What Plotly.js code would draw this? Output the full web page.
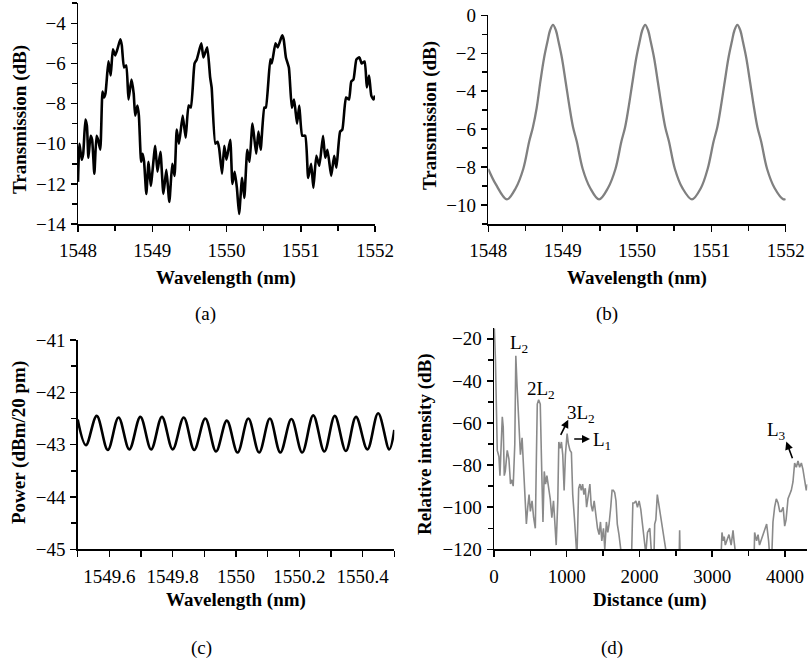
<!DOCTYPE html>
<html>
<head>
<meta charset="utf-8">
<script src="https://cdn.plot.ly/plotly-3.0.1.min.js"></script>
<style>html,body{margin:0;padding:0;background:#fff;}#plot{width:808px;height:667px;}</style>
</head>
<body>
<div id="plot"></div>
<script>
// ---------- Panel (a): measured transmission ----------
const aWavelength = [1548.00,1548.02,1548.05,1548.07,1548.10,1548.12,1548.14,1548.17,1548.19,1548.22,1548.25,1548.27,1548.30,1548.33,1548.35,1548.37,1548.41,1548.44,1548.47,1548.50,1548.53,1548.57,1548.59,1548.62,1548.65,1548.68,1548.72,1548.75,1548.77,1548.80,1548.82,1548.85,1548.87,1548.89,1548.92,1548.95,1548.98,1549.04,1549.07,1549.11,1549.15,1549.19,1549.23,1549.27,1549.30,1549.33,1549.36,1549.41,1549.45,1549.49,1549.52,1549.57,1549.60,1549.66,1549.69,1549.74,1549.78,1549.80,1549.85,1549.88,1549.90,1549.94,1549.97,1550.00,1550.05,1550.08,1550.11,1550.14,1550.17,1550.21,1550.24,1550.28,1550.31,1550.35,1550.40,1550.43,1550.46,1550.51,1550.53,1550.59,1550.61,1550.66,1550.69,1550.75,1550.77,1550.80,1550.84,1550.88,1550.91,1550.95,1550.98,1551.02,1551.06,1551.10,1551.14,1551.17,1551.21,1551.25,1551.30,1551.33,1551.36,1551.41,1551.45,1551.48,1551.53,1551.56,1551.61,1551.65,1551.68,1551.71,1551.75,1551.79,1551.82,1551.86,1551.89,1551.92,1551.95,1551.98,1552.00];
const aTransmission = [-11.9,-10.0,-10.8,-10.5,-8.8,-9.1,-10.7,-9.6,-9.8,-11.5,-9.6,-9.8,-10.3,-7.4,-7.7,-7.5,-5.9,-6.6,-5.3,-5.6,-5.3,-4.8,-5.1,-6.2,-6.1,-7.8,-6.8,-7.5,-8.6,-8.1,-8.6,-10.9,-10.5,-10.9,-12.5,-10.9,-12.1,-10.1,-11.4,-10.4,-12.5,-11.3,-12.9,-11.0,-11.6,-9.3,-10.0,-8.6,-9.7,-8.1,-8.2,-6.0,-5.8,-5.0,-5.7,-5.2,-6.7,-7.2,-10.0,-9.9,-10.2,-11.5,-10.1,-10.8,-9.8,-12.0,-11.4,-12.2,-13.5,-11.7,-12.7,-10.3,-10.9,-9.0,-10.5,-9.4,-10.3,-8.2,-8.2,-5.8,-6.0,-5.0,-5.2,-4.6,-4.8,-5.7,-6.2,-8.2,-7.8,-9.0,-8.1,-9.6,-9.6,-11.7,-11.0,-12.2,-10.6,-11.1,-9.6,-10.7,-10.3,-11.6,-10.6,-11.2,-9.4,-9.3,-7.7,-7.8,-6.9,-6.8,-5.8,-5.7,-6.0,-5.9,-7.2,-6.6,-7.6,-7.8,-7.6];

// ---------- Panel (b): simulated transmission ----------
const bWavelength = [1548.00,1548.10,1548.25,1548.37,1548.47,1548.55,1548.60,1548.65,1548.70,1548.75,1548.795,1548.83,1548.87,1548.91,1548.945,1548.99,1549.04,1549.095,1549.14,1549.19,1549.27,1549.37,1549.49,1549.61,1549.71,1549.79,1549.84,1549.885,1549.94,1549.99,1550.035,1550.07,1550.11,1550.15,1550.185,1550.23,1550.28,1550.335,1550.38,1550.43,1550.51,1550.61,1550.74,1550.86,1550.95,1551.03,1551.08,1551.125,1551.18,1551.23,1551.275,1551.31,1551.35,1551.39,1551.425,1551.47,1551.52,1551.575,1551.62,1551.67,1551.75,1551.85,1551.97,1552.00];
const bTransmission = [-8.1,-8.9,-9.7,-9.1,-8.1,-6.65,-5.9,-4.9,-3.5,-2.25,-1.4,-0.8,-0.5,-0.8,-1.4,-2.25,-3.5,-4.9,-5.9,-6.65,-8.1,-9.1,-9.7,-9.1,-8.1,-6.65,-5.9,-4.9,-3.5,-2.25,-1.4,-0.8,-0.5,-0.8,-1.4,-2.25,-3.5,-4.9,-5.9,-6.65,-8.1,-9.1,-9.7,-9.1,-8.1,-6.65,-5.9,-4.9,-3.5,-2.25,-1.4,-0.8,-0.5,-0.8,-1.4,-2.25,-3.5,-4.9,-5.9,-6.65,-8.1,-9.1,-9.7,-9.68];

// ---------- Panel (c): output power ----------
const cWavelength = [1549.500,1549.526,1549.560,1549.595,1549.629,1549.663,1549.698,1549.732,1549.766,1549.800,1549.835,1549.868,1549.903,1549.937,1549.971,1550.005,1550.039,1550.073,1550.107,1550.140,1550.175,1550.209,1550.244,1550.279,1550.312,1550.347,1550.379,1550.415,1550.449,1550.484,1550.500];
const cPower = [-42.52,-43.01,-42.45,-43.10,-42.48,-43.09,-42.47,-43.09,-42.47,-43.09,-42.48,-43.10,-42.50,-43.13,-42.54,-43.15,-42.50,-43.15,-42.50,-43.15,-42.51,-43.15,-42.44,-43.13,-42.45,-43.12,-42.47,-43.09,-42.40,-43.09,-42.72];
const cTickVals = [1549.6, 1549.8, 1550.0, 1550.2, 1550.4];
const cTickText = ['1549.6', '1549.8', '1550', '1550.2', '1550.4'];

// ---------- Panel (d): spatial spectrum ----------
const dDistance = [5,20,45,68,82,95,114,127,141,155,182,205,227,245,264,286,300,318,341,363,386,400,414,432,445,464,482,500,523,545,568,582,595,614,636,655,673,691,709,727,750,773,795,818,836,855,877,891,909,927,945,964,982,1005,1023,1045,1064,1082,1105,1127,1140,1164,1182,1200,1218,1236,1255,1273,1295,1318,1336,1355,1377,1400,1423,1445,1464,1482,1505,1523,1545,1564,1582,1605,1623,1641,1659,1677,1695,1718,1741,1760,1890,1909,1927,1950,1972,1995,2018,2041,2064,2087,2110,2142,2165,2200,2209,2225,2245,2271,2291,2303,2326,2349,2383,2545,2552,2560,3120,3134,3150,3165,3180,3200,3230,3260,3286,3300,3331,3575,3583,3610,3630,3650,3670,3690,3720,3748,3775,3794,3820,3835,3858,3881,3905,3928,3950,3975,3996,4015,4042,4064,4087,4110,4133,4156,4179,4202,4225,4247,4270,4293,4310];
const dIntensity = [-15,-30,-73,-76,-85,-75,-57,-62,-85,-83,-73,-77,-89,-87,-90,-70,-28,-43,-62,-75,-67,-77,-91,-104,-108,-100,-94,-102,-97,-105,-110,-78,-51,-49,-51,-81,-107,-83,-89,-85,-91,-96,-105,-97,-107,-118,-97,-69,-72,-69,-75,-92,-75,-65,-70,-73,-74,-94,-105,-120,-124,-91,-89,-92,-89,-94,-91,-100,-94,-89,-99,-102,-97,-104,-110,-113,-107,-116,-110,-120,-107,-112,-108,-100,-92,-92,-93,-97,-108,-113,-120,-125,-125,-98,-98,-97,-100,-97,-101,-108,-112,-122,-112,-110,-122,-122,-108,-106,-94,-100,-104,-108,-114,-117,-125,-125,-111,-125,-125,-112,-116,-114,-118,-116,-113,-118,-111,-116,-125,-125,-112,-116,-113,-118,-116,-114,-110,-108,-116,-125,-122,-107,-100,-96,-98,-102,-102,-100,-109,-106,-96,-94,-92,-88,-79,-81,-78,-81,-79,-82,-87,-92,-89];

const SERIF = 'Liberation Serif';
const W = 808, H = 667;
const px = v => v / W;
const py = v => 1 - v / H;

function axis(extra, minor, isX) {
  return Object.assign({
    showline: true, linecolor: '#000', linewidth: 1.5,
    ticks: 'outside', ticklen: 6, tickwidth: 1.5, tickcolor: '#000',
    showgrid: false, zeroline: false, mirror: false, automargin: false,
    ticklabelstandoff: isX ? 3 : 1,
    tickfont: {family: SERIF, size: 19, color: '#000'},
    minor: Object.assign({ticks: 'outside', ticklen: 5, tickwidth: 1.5, tickcolor: '#000', showgrid: false}, minor)
  }, extra);
}

const traces = [
  {x: aWavelength, y: aTransmission, xaxis: 'x', yaxis: 'y', type: 'scatter', mode: 'lines',
   line: {color: '#000', width: 2.6, shape: 'spline', smoothing: 0.5}},
  {x: bWavelength, y: bTransmission, xaxis: 'x2', yaxis: 'y2', type: 'scatter', mode: 'lines',
   line: {color: '#808080', width: 2.3, shape: 'spline', smoothing: 1}},
  {x: cWavelength, y: cPower, xaxis: 'x3', yaxis: 'y3', type: 'scatter', mode: 'lines',
   line: {color: '#000', width: 2.6, shape: 'spline', smoothing: 1}},
  {x: dDistance, y: dIntensity, xaxis: 'x4', yaxis: 'y4', type: 'scatter', mode: 'lines',
   line: {color: '#8a8a8a', width: 1.6}}
];

const ann = (text, x, y, size, angle) => ({text: text, xref: 'paper', yref: 'paper', x: px(x), y: py(y),
  showarrow: false, xanchor: 'center', yanchor: 'middle', textangle: angle || 0,
  font: {family: SERIF, size: size || 19, color: '#000'}});
const lab = (text, x, y) => ({text: text, xref: 'x4', yref: 'y4', x: x, y: y, showarrow: false,
  xanchor: 'center', yanchor: 'middle', font: {family: SERIF, size: 19, color: '#000'}});
const arrow = (x, y, ax, ay) => ({text: '', xref: 'x4', yref: 'y4', x: x, y: y, axref: 'x4', ayref: 'y4', ax: ax, ay: ay,
  showarrow: true, arrowhead: 2, arrowsize: 1, arrowwidth: 1.6, arrowcolor: '#000', standoff: 0, startstandoff: 0});

const layout = {
  width: W, height: H, margin: {l: 0, r: 0, t: 0, b: 0},
  paper_bgcolor: '#fff', plot_bgcolor: 'rgba(0,0,0,0)', showlegend: false,
  font: {family: SERIF, color: '#000'},
  xaxis: axis({domain: [px(78), px(375)], range: [1548, 1552], dtick: 1, tick0: 1548, anchor: 'y'}, {dtick: 0.5}, true),
  yaxis: axis({domain: [py(224), py(3.2)], range: [-14, -3], dtick: 2, tick0: -14, anchor: 'x'}, {dtick: 1}),
  xaxis2: axis({domain: [px(488.3), px(785.7)], range: [1548, 1552], dtick: 1, tick0: 1548, anchor: 'y2'}, {dtick: 0.5}, true),
  yaxis2: axis({domain: [py(224), py(15.3)], range: [-11, 0], dtick: 2, tick0: 0, anchor: 'x2'}, {dtick: 1}),
  xaxis3: axis({domain: [px(77.7), px(394.3)], range: [1549.5, 1550.5], tickmode: 'array', tickvals: cTickVals, ticktext: cTickText, anchor: 'y3'}, {dtick: 0.1, tick0: 1549.5, ticklen: 6}, true),
  yaxis3: axis({domain: [py(549.3), py(340)], range: [-45, -41], dtick: 1, tick0: -45, anchor: 'x3'}, {dtick: 0.5}),
  xaxis4: axis({domain: [px(494), px(807.3)], range: [0, 4307], dtick: 1000, tick0: 0, anchor: 'y4'}, {dtick: 500}, true),
  yaxis4: axis({domain: [py(549.3), py(328.3)], range: [-120, -15], dtick: 20, tick0: -120, anchor: 'x4'}, {dtick: 10}),
  annotations: [
    // axis titles
    ann('<b>Wavelength (nm)</b>', 226, 278),
    ann('<b>Transmission (dB)</b>', 20, 120, 19, -90),
    ann('<b>Wavelength (nm)</b>', 637, 278),
    ann('<b>Transmission (dB)</b>', 430, 116, 19, -90),
    ann('<b>Wavelength (nm)</b>', 236, 600),
    ann('<b>Power (dBm/20 pm)</b>', 19, 443, 19, -90),
    ann('<b>Distance (um)</b>', 649, 600),
    ann('<b>Relative intensity (dB)</b>', 425, 444, 19, -90),
    // panel captions
    ann('(a)', 205, 314), ann('(b)', 607, 314), ann('(c)', 201, 648), ann('(d)', 612, 648),
    // peak labels in (d)
    lab('L<sub>2</sub>', 337, -22.5),
    lab('2L<sub>2</sub>', 650, -44.5),
    lab('3L<sub>2</sub>', 1195, -55.5),
    lab('L<sub>1</sub>', 1490, -68.5),
    lab('L<sub>3</sub>', 3880, -64),
    arrow(1021, -58.5, 907, -66.4),
    arrow(1320, -67.6, 1082, -67.6),
    arrow(4018, -68.8, 4110, -77.5)
  ]
};

Plotly.newPlot('plot', traces, layout, {staticPlot: true, displayModeBar: false});
</script>
</body>
</html>
